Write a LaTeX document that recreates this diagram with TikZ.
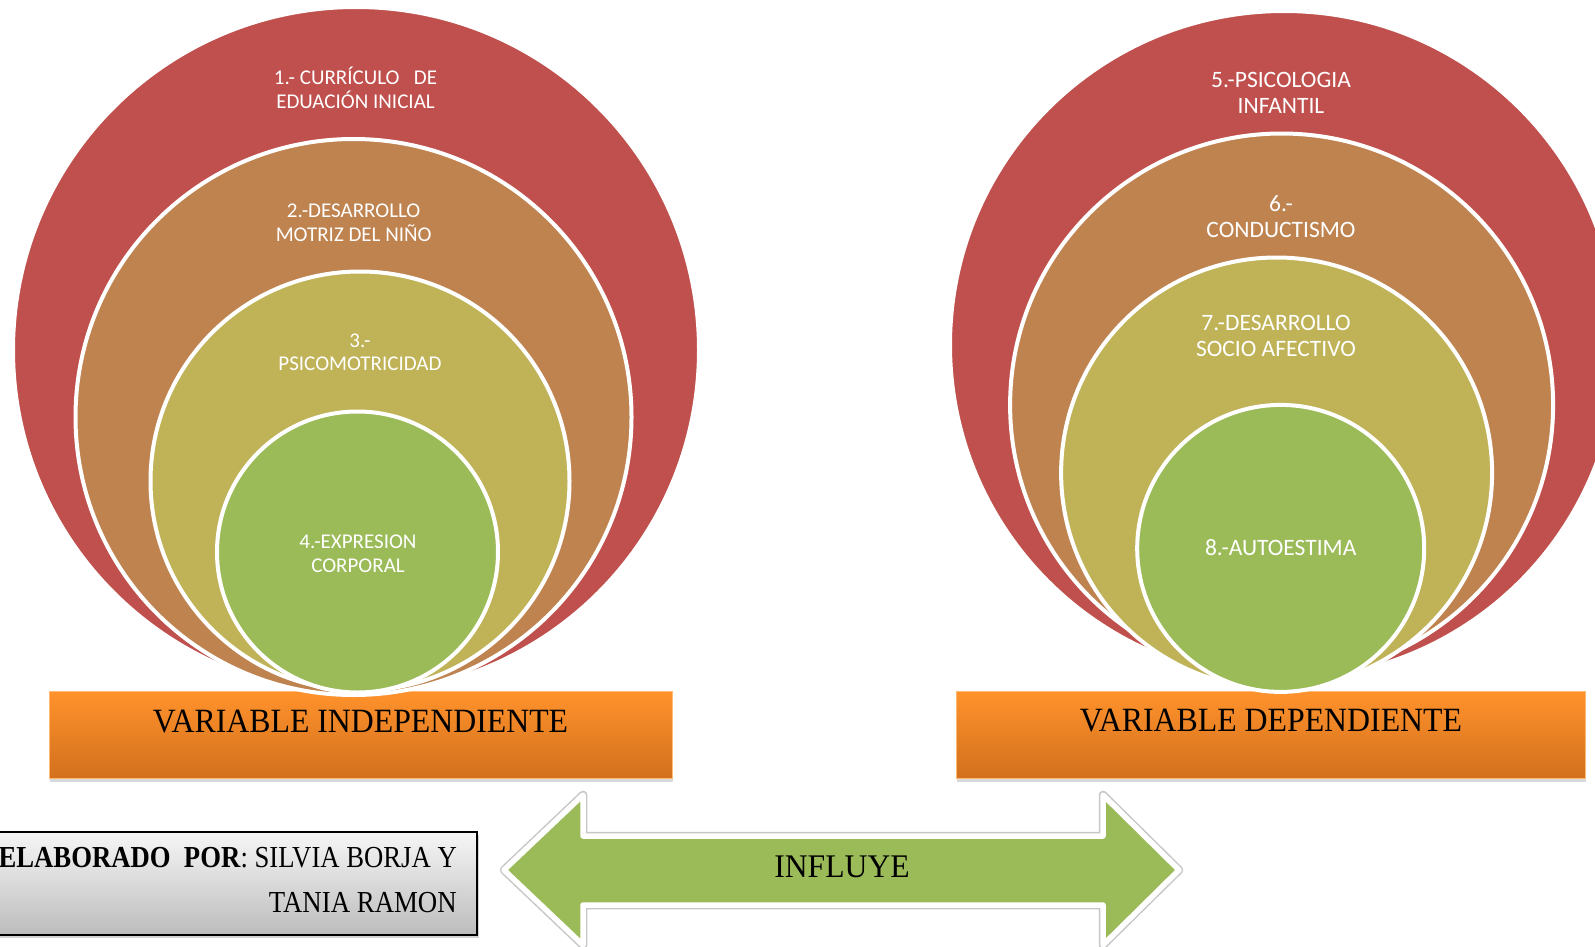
\documentclass[tikz,border=0pt]{standalone}
\usepackage{fontspec}
\usepackage{graphicx}
\setmainfont{Liberation Serif}
\newfontfamily\calib{Carlito}
\usetikzlibrary{shadows}
\definecolor{cred}{HTML}{C0504D}
\definecolor{corange}{HTML}{BF8350}
\definecolor{colive}{HTML}{BFB257}
\definecolor{cgreen}{HTML}{9BBB59}
\definecolor{boxtop}{RGB}{255,146,43}
\definecolor{boxbot}{RGB}{210,112,30}
\definecolor{graytop}{RGB}{246,246,246}
\definecolor{graybot}{RGB}{188,188,188}
\begin{document}
\begin{tikzpicture}[x=1pt,y=-1pt,
  ring/.style={circle, inner sep=0pt, draw=white, line width=4pt},
  lbl/.style={font=\calib\fontsize{21}{23.5}\selectfont, text=white, align=center, inner sep=0pt, anchor=base},
  rlbl/.style={font=\calib\fontsize{23.5}{25.8}\selectfont, text=white, align=center, inner sep=0pt, anchor=base},
  varbox/.style={draw=orange!55, line width=0.8pt, top color=boxtop, bottom color=boxbot, inner sep=0pt,
    drop shadow={opacity=0.3, shadow xshift=1pt, shadow yshift=-4pt}},
  vartext/.style={font=\fontsize{34}{40}\selectfont, inner sep=0pt, anchor=base},
  authtext/.style={font=\fontsize{30.5}{36}\selectfont, inner sep=0pt, anchor=base east}
]
\useasboundingbox (0,0) rectangle (1595,947);

% variable boxes
\node[varbox, minimum width=623pt, minimum height=87pt, anchor=north west] (vibox) at (49,691) {};
\node[varbox, minimum width=629pt, minimum height=87pt, anchor=north west] (vdbox) at (956,691) {};

% left circles
\node[ring, fill=cred,    minimum size=686pt] (c1) at (356,350) {};
\node[ring, fill=corange, minimum size=556pt] (c2) at (353.5,417) {};
\node[ring, fill=colive,  minimum size=419pt] (c3) at (360,481) {};
\node[ring, fill=cgreen,  minimum size=281pt] (c4) at (357.5,552) {};

% right circles
\node[ring, fill=cred,    minimum size=668pt] (c5) at (1284,345) {};
\node[ring, fill=corange, minimum size=543pt] (c6) at (1281.6,405) {};
\node[ring, fill=colive,  minimum size=431pt] (c7) at (1276.6,473) {};
\node[ring, fill=cgreen,  minimum size=287pt] (c8) at (1280.7,548.4) {};

% labels (position = baseline of last line)
\node[lbl] (l1) at (355.5,108.5) {1.- CURRÍCULO\ \ \ DE\\EDUACIÓN INICIAL};
\node[lbl] (l2) at (353.7,241) {2.-DESARROLLO\\MOTRIZ DEL NIÑO};
\node[lbl] (l3) at (360,370.5) {3.-\\PSICOMOTRICIDAD};
\node[lbl] (l4) at (358,572) {4.-EXPRESION\\CORPORAL};
\node[rlbl] (l5) at (1281,113.5) {5.-PSICOLOGIA\\INFANTIL};
\node[rlbl] (l6) at (1281,237) {6.-\\CONDUCTISMO};
\node[rlbl] (l7) at (1276,356.5) {7.-DESARROLLO\\SOCIO AFECTIVO};
\node[rlbl] (l8) at (1280.7,555) {8.-AUTOESTIMA};

% variable texts
\node[vartext] (vi) at (360.5,732.7) {\scalebox{0.935}[1]{VARIABLE INDEPENDIENTE}};
\node[vartext] (vd) at (1271,731.7) {\scalebox{0.936}[1]{VARIABLE DEPENDIENTE}};

% author box
\node[draw=black, line width=2pt, top color=graytop, bottom color=graybot, inner sep=0pt,
  minimum width=500pt, minimum height=103pt, anchor=north east,
  drop shadow={opacity=0.35, shadow xshift=2pt, shadow yshift=-3pt}] (auth) at (478,831) {};
\node[authtext] (auth1) at (457,867.5) {\scalebox{0.875}[1]{\textbf{ELABORADO\ \ POR}: SILVIA BORJA Y}};
\node[authtext] (auth2) at (457,912) {\scalebox{0.88}[1]{TANIA RAMON}};

% double arrow
\draw[fill=cgreen, draw=white, line width=5.5pt, line join=round,
  preaction={draw=black!22, line width=8.5pt, line join=round},
  drop shadow={opacity=0.3, shadow xshift=1pt, shadow yshift=-2pt}]
  (504,870) -- (583,795) -- (583,836) -- (1103,836) -- (1103,795) -- (1179,870)
  -- (1103,945) -- (1103,905) -- (583,905) -- (583,945) -- cycle;
\node[font=\fontsize{33}{40}\selectfont, inner sep=0pt, anchor=base] (influye) at (842,877) {\scalebox{0.96}[1]{INFLUYE}};
\end{tikzpicture}
\end{document}
